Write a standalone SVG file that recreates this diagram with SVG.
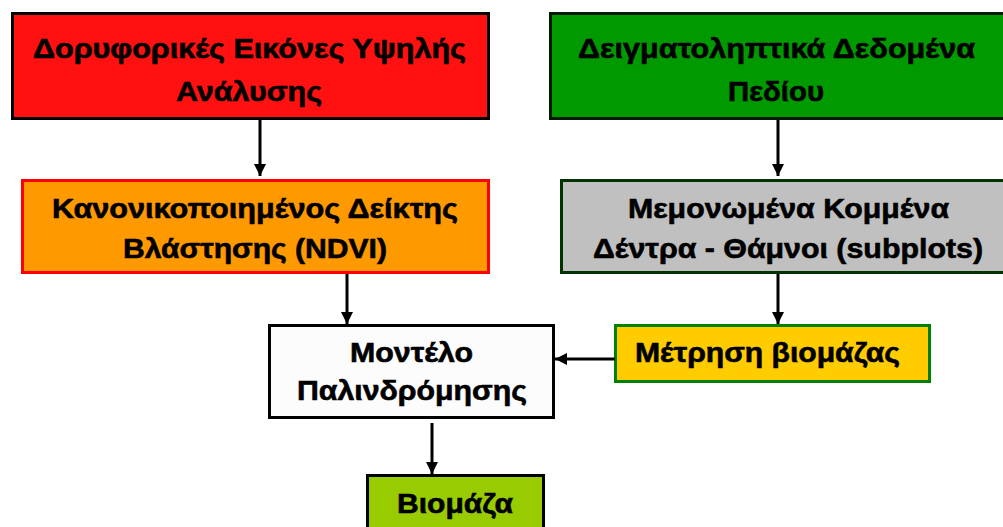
<svg xmlns="http://www.w3.org/2000/svg" width="1003" height="527" viewBox="0 0 1003 527">
<defs>
<marker id="ah" viewBox="0 0 10 10" refX="10" refY="5" markerWidth="4" markerHeight="4" orient="auto" markerUnits="strokeWidth">
<path d="M0,0 L10,5 L0,10 z" fill="#000"/>
</marker>
<style>
text{font-family:"Liberation Sans",Arial,sans-serif;font-weight:bold;font-size:28px;fill:#000;stroke:#000;stroke-width:0.6;text-anchor:middle}
.c{stroke:#000;stroke-width:3;fill:none;marker-end:url(#ah)}
</style>
</defs>
<rect width="1003" height="527" fill="#fff"/>
<g id="n1"><rect x="12.5" y="13.5" width="476" height="105" fill="#FF1111" stroke="#000" stroke-width="3"/><text x="249.5" y="58" textLength="433" lengthAdjust="spacingAndGlyphs">Δορυφορικές Εικόνες Υψηλής</text><text x="249" y="101" textLength="146" lengthAdjust="spacingAndGlyphs">Ανάλυσης</text></g>
<g id="n2"><rect x="550.5" y="13.5" width="460" height="105" fill="#009900" stroke="#001a00" stroke-width="3"/><text x="776.5" y="58" textLength="397" lengthAdjust="spacingAndGlyphs">Δειγματοληπτικά Δεδομένα</text><text x="776" y="101" textLength="96" lengthAdjust="spacingAndGlyphs">Πεδίου</text></g>
<g id="n3"><rect x="22.5" y="180.5" width="466" height="92" fill="#FF9900" stroke="#FF0000" stroke-width="3"/><text x="255" y="218" textLength="406" lengthAdjust="spacingAndGlyphs">Κανονικοποιημένος Δείκτης</text><text x="255" y="258" textLength="264" lengthAdjust="spacingAndGlyphs">Βλάστησης (NDVI)</text></g>
<g id="n4"><rect x="561.5" y="180.5" width="460" height="92" fill="#C0C0C0" stroke="#003300" stroke-width="3"/><text x="788.5" y="218" textLength="321" lengthAdjust="spacingAndGlyphs">Μεμονωμένα Κομμένα</text><text x="788" y="258" textLength="390" lengthAdjust="spacingAndGlyphs">Δέντρα - Θάμνοι (subplots)</text></g>
<g id="n5"><rect x="269.5" y="325.5" width="284" height="92" fill="#FCFCFC" stroke="#000" stroke-width="3"/><text x="411.5" y="362" textLength="123" lengthAdjust="spacingAndGlyphs">Μοντέλο</text><text x="412" y="400" textLength="230" lengthAdjust="spacingAndGlyphs">Παλινδρόμησης</text></g>
<g id="n6"><rect x="615.5" y="325.5" width="314" height="56" fill="#FFCC00" stroke="#008000" stroke-width="3"/><text x="767.5" y="362" textLength="265" lengthAdjust="spacingAndGlyphs">Μέτρηση βιομάζας</text></g>
<g id="n7"><rect x="367.5" y="475.5" width="176" height="60" fill="#99CC00" stroke="#000" stroke-width="3"/><text x="455" y="513" textLength="116" lengthAdjust="spacingAndGlyphs">Βιομάζα</text></g>
<g id="connectors">
<line class="c" x1="260" y1="120" x2="260" y2="176"/>
<line class="c" x1="778" y1="120" x2="778" y2="176"/>
<line class="c" x1="347" y1="274" x2="347" y2="324"/>
<line class="c" x1="778" y1="274" x2="778" y2="324"/>
<line class="c" x1="615" y1="359" x2="555" y2="359"/>
<line class="c" x1="432" y1="423" x2="432" y2="474"/>
</g>
</svg>
